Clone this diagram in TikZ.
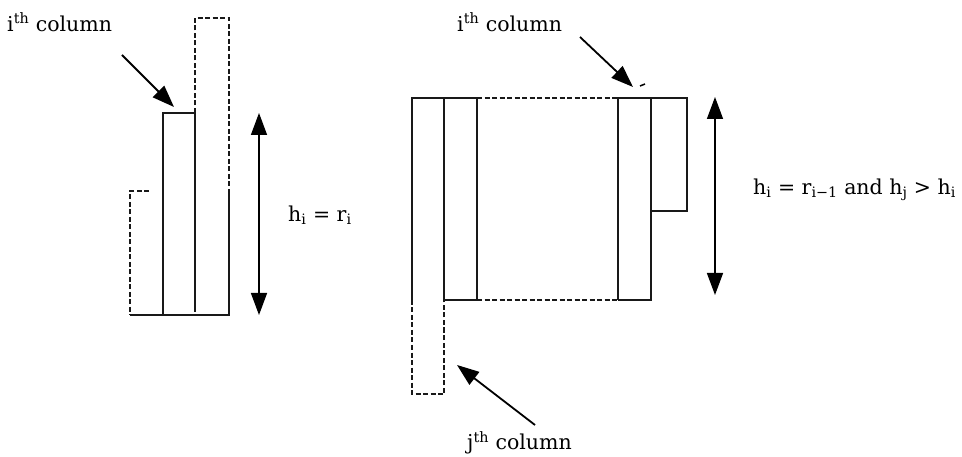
\documentclass[tikz,border=0pt]{standalone}
\usepackage{fontspec}
\setmainfont{DejaVu Serif}
\usetikzlibrary{arrows.meta}
\begin{document}
\begin{tikzpicture}[x=1pt,y=-1pt,
  wall/.style={line width=1.5pt,black!90,line join=miter},
  dwall/.style={wall,dash pattern=on 5pt off 2.5pt},
  pointer/.style={line width=1.8pt,-{Triangle[length=22pt,width=16pt]}},
  span/.style={line width=1.5pt,{Triangle[length=22pt,width=16pt]}-{Triangle[length=22pt,width=16pt]}},
  lab/.style={font=\fontsize{20.5}{24}\selectfont,inner sep=0pt}]
\useasboundingbox (0,0) rectangle (962,457);
\fill[white] (0,0) rectangle (962,457);

% ---------- left figure ----------
\draw[dwall] (149,191) -- (130,191) -- (130,315);
\draw[wall] (130,315) -- (229,315) -- (229,191);
\draw[wall] (163,315) -- (163,113) -- (195,113) -- (195,312);
\draw[dwall] (195,113) -- (195,18) -- (229,18) -- (229,191);

\node[lab,anchor=west] (ilabA) at (7,22) {i\textsuperscript{th} column};
\coordinate (ifromA) at (122,55);
\coordinate (itoA) at (174,107);
\draw[pointer] (ifromA) -- (itoA);

\coordinate (hAtop) at (259,113);
\coordinate (hAbot) at (259,315);
\draw[span] (hAtop) -- (hAbot);
\node[lab,anchor=west] (hlabA) at (288,215) {h\textsubscript{i} = r\textsubscript{i}};

% ---------- right figure ----------
\draw[wall] (412,300) -- (412,98) -- (477,98);
\draw[dwall] (412,300) -- (412,394) -- (444,394) -- (444,300);
\draw[wall] (444,98) -- (444,300) -- (477,300);
\draw[wall] (477,98) -- (477,300);
\draw[dwall] (477,98) -- (618,98);
\draw[dwall] (477,300) -- (618,300);
\draw[wall] (618,300) -- (618,98) -- (687,98) -- (687,211) -- (651,211);
\draw[wall] (618,300) -- (651,300) -- (651,98);

\node[lab,anchor=west] (ilabB) at (457,22) {i\textsuperscript{th} column};
\coordinate (ifromB) at (580,37);
\coordinate (itoB) at (633,87);
\draw[pointer] (ifromB) -- (itoB);
\coordinate (tickA) at (640,86);
\coordinate (tickB) at (645,84);
\draw[line width=1.5pt] (tickA) -- (tickB);

\coordinate (hBtop) at (715,97);
\coordinate (hBbot) at (715,295);
\draw[span] (hBtop) -- (hBbot);
\node[lab,anchor=west] (hlabB) at (753,190) {h\textsubscript{i} = r\textsubscript{i−1} and h\textsubscript{j} > h\textsubscript{i}};

\node[lab,anchor=west] (jlab) at (467,443) {j\textsuperscript{th} column};
\coordinate (jfrom) at (535,425);
\coordinate (jto) at (457,365);
\draw[pointer] (jfrom) -- (jto);
\end{tikzpicture}
\end{document}
